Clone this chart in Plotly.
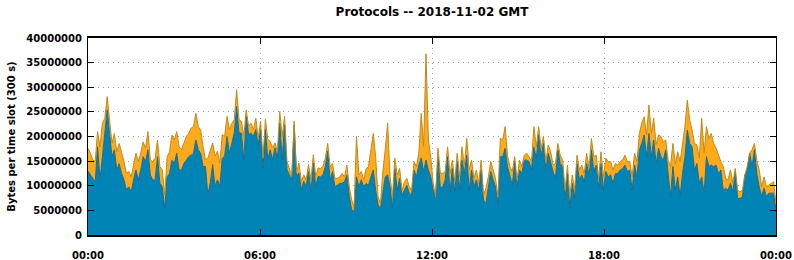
import pandas as pd
import plotly.graph_objects as go

# Values in millions of bytes per 300 s slot, 288 slots (00:00 .. 24:00)
total_mb = [
    17.6,16.6,15.2,15.0,21.0,17.9,22.7,23.7,28.1,23.3,
    18.6,20.6,16.9,18.6,16.9,14.9,12.5,12.9,11.8,14.2,
    16.6,14.9,16.6,18.9,17.6,21.0,15.2,14.9,15.6,19.3,
    13.9,13.2,8.1,15.9,16.9,20.3,19.3,21.0,17.9,17.3,
    18.6,20.0,20.6,21.7,22.0,24.7,22.0,21.3,17.9,
    15.3,15.6,17.0,18.7,16.0,17.0,14.6,20.4,20.0,24.1,
    21.4,22.7,23.4,29.5,23.4,23.1,20.0,25.4,22.1,22.7,
    21.4,23.7,19.7,23.1,15.6,23.5,19.4,19.0,17.7,18.7,
    17.0,25.1,20.0,24.1,15.0,13.3,11.9,23.1,12.6,14.6,
    10.9,12.2,11.2,14.3,11.2,16.3,11.9,13.6,
    13.5,13.9,15.6,18.6,13.9,14.5,11.5,11.5,11.8,12.5,
    11.8,14.2,9.8,7.1,5.8,20.0,12.2,12.9,11.2,13.5,
    13.9,17.3,20.6,15.9,7.8,6.4,12.9,17.3,22.7,11.8,
    7.8,15.6,12.2,13.5,9.1,10.8,11.5,9.8,9.1,14.9,
    13.9,16.6,24.7,18.0,36.8,19.3,15.7,
    10.5,7.8,17.6,12.5,12.5,12.9,17.9,12.5,15.2,10.8,
    16.6,11.8,17.9,14.2,19.6,13.2,15.2,11.5,13.2,10.5,
    15.2,8.1,9.5,11.8,14.9,13.2,11.5,7.8,19.6,19.3,
    22.0,16.2,13.9,12.9,15.9,11.2,15.2,13.9,16.2,16.6,
    15.9,14.9,22.0,17.9,22.0,17.6,20.0,14.9,
    18.3,16.9,14.2,14.5,18.6,16.2,15.2,9.1,14.2,7.8,
    12.2,9.1,16.2,13.2,14.2,12.5,16.6,13.5,19.6,15.9,
    16.2,11.5,16.9,11.8,15.6,14.9,14.9,13.2,14.5,14.2,
    14.9,15.2,16.2,14.9,14.9,11.8,16.6,14.9,20.6,22.7,
    24.0,20.3,26.4,20.6,23.7,18.3,20.3,20.0,
    18.9,19.3,15.2,13.9,18.6,14.5,16.9,14.9,18.6,22.0,
    27.4,23.3,21.3,18.6,18.3,15.6,23.7,16.6,22.0,19.6,
    20.6,18.6,17.6,16.2,14.9,13.9,11.5,11.2,13.2,10.5,
    13.5,9.1,8.8,9.1,12.2,13.9,16.6,17.3,18.6,15.2,
    13.2,9.8,11.8,9.8,10.1,10.5,10.8,6.4,
]

blue_mb = [
    13.0,12.2,11.5,10.8,17.9,11.2,15.9,20.6,25.4,20.6,
    15.9,17.3,13.2,14.5,12.5,11.2,9.1,9.8,8.8,11.2,
    13.2,11.2,13.2,15.9,14.9,17.3,12.2,11.2,11.2,15.9,
    10.5,9.8,5.4,11.8,12.5,15.2,14.5,16.6,13.2,13.2,
    14.5,15.2,15.9,16.2,16.6,19.3,17.3,16.6,13.9,
    13.9,8.2,10.6,14.3,9.9,11.2,9.9,15.6,16.0,20.0,
    16.6,18.7,20.7,26.1,20.7,20.7,15.3,24.1,20.4,20.7,
    20.0,21.4,18.3,21.4,13.6,21.4,15.3,17.3,15.3,17.7,
    15.6,22.7,15.3,22.4,13.3,12.2,11.2,22.4,11.9,12.6,
    9.2,10.9,9.9,12.9,8.9,14.6,9.9,11.9,
    11.8,12.2,13.9,17.0,11.2,12.9,9.8,10.1,10.5,10.5,
    10.8,12.2,7.8,5.1,4.7,11.8,9.8,11.2,9.8,10.5,
    10.1,11.8,13.2,9.1,6.1,5.4,9.1,11.8,12.2,9.8,
    5.4,13.5,9.1,11.5,8.1,9.1,10.1,8.5,8.1,13.2,
    11.8,14.2,15.6,12.9,15.2,13.2,11.8,
    9.1,7.8,15.9,9.5,9.8,11.2,15.9,8.8,13.5,8.8,
    14.9,9.1,15.2,12.5,16.2,9.1,13.2,9.8,11.2,9.1,
    13.2,7.1,6.4,9.8,12.9,11.2,9.8,6.4,15.9,15.9,
    17.6,13.9,11.8,10.1,14.9,9.8,13.2,12.5,15.2,15.2,
    14.9,13.2,17.9,15.6,20.3,15.9,18.6,13.2,
    16.6,14.5,12.9,11.5,17.3,14.5,13.9,7.1,12.5,5.4,
    10.5,7.4,14.5,11.2,12.2,10.8,14.5,12.2,17.3,12.9,
    14.2,9.5,14.5,9.1,12.9,11.8,12.2,10.5,12.5,12.5,
    13.2,13.5,14.2,12.9,13.2,9.1,14.2,11.8,17.3,18.6,
    20.3,15.9,20.6,15.9,19.3,14.5,17.6,15.9,
    15.2,17.3,11.8,7.8,13.9,9.1,11.8,7.8,12.5,15.9,
    21.3,18.6,17.9,13.2,14.5,10.5,11.8,8.5,15.9,13.9,
    14.2,13.9,14.2,12.5,13.2,9.1,9.5,9.1,10.5,8.8,
    12.9,7.4,7.4,7.8,12.2,13.2,16.6,13.9,17.3,12.5,
    9.8,7.8,9.5,7.8,8.5,8.5,8.5,5.1,
]

x_tick_labels = ["00:00", "06:00", "12:00", "18:00", "00:00"]
y_tick_values = [0, 5000000, 10000000, 15000000, 20000000, 25000000,
                 30000000, 35000000, 40000000]

times = pd.date_range("2018-11-02 00:00", "2018-11-03 00:00", periods=len(total_mb))
x_tick_vals = pd.date_range("2018-11-02 00:00", "2018-11-03 00:00", freq="6h")

blue = [v * 1e6 for v in blue_mb]
total = [v * 1e6 for v in total_mb]

fig = go.Figure()
fig.add_trace(go.Scatter(
    x=times, y=blue, name="TCP", mode="lines",
    line=dict(color="#1d6a8a", width=1), fill="tozeroy",
    fillcolor="#0083b5", showlegend=False,
))
fig.add_trace(go.Scatter(
    x=times, y=total, name="Other", mode="lines",
    line=dict(color="#c08a1c", width=1), fill="tonexty",
    fillcolor="#ffaa1a", showlegend=False,
))

font_family = "DejaVu Sans"
grid_dash = "1px,4px"
fig.update_layout(
    width=794, height=260,
    margin=dict(l=88, r=18, t=38, b=25),
    paper_bgcolor="white", plot_bgcolor="white",
    title=dict(text="Protocols -- 2018-11-02 GMT", x=(88 + 688 / 2) / 794,
               xanchor="center", y=1 - 12 / 260, yanchor="middle",
               font=dict(family=font_family, size=12, color="black", weight="bold")),
    font=dict(family=font_family, color="black"),
)
fig.update_xaxes(
    range=[times[0], times[-1]],
    tickvals=x_tick_vals, ticktext=x_tick_labels,
    ticks="inside", ticklen=6, tickwidth=1, tickcolor="black",
    showline=True, linecolor="black", linewidth=2, mirror="ticks",
    showgrid=True, gridcolor="#a0a0a0", griddash=grid_dash, gridwidth=1,
    tickfont=dict(family=font_family, size=10, color="black", weight="bold"),
    ticklabelstandoff=10, automargin=False,
    zeroline=False,
)
fig.update_yaxes(
    range=[0, 40000000], tickvals=y_tick_values,
    ticktext=[str(v) for v in y_tick_values],
    ticks="inside", ticklen=6, tickwidth=1, tickcolor="black",
    showline=True, linecolor="black", linewidth=1, mirror="ticks",
    showgrid=True, gridcolor="#a0a0a0", griddash=grid_dash, gridwidth=1,
    tickfont=dict(family=font_family, size=10, color="black", weight="bold"),
    ticklabelstandoff=3, automargin=False,
    title=dict(text="Bytes per time slot (300 s)", standoff=8,
               font=dict(family=font_family, size=10, color="black", weight="bold")),
    zeroline=False,
)

fig.write_html("out.html")
